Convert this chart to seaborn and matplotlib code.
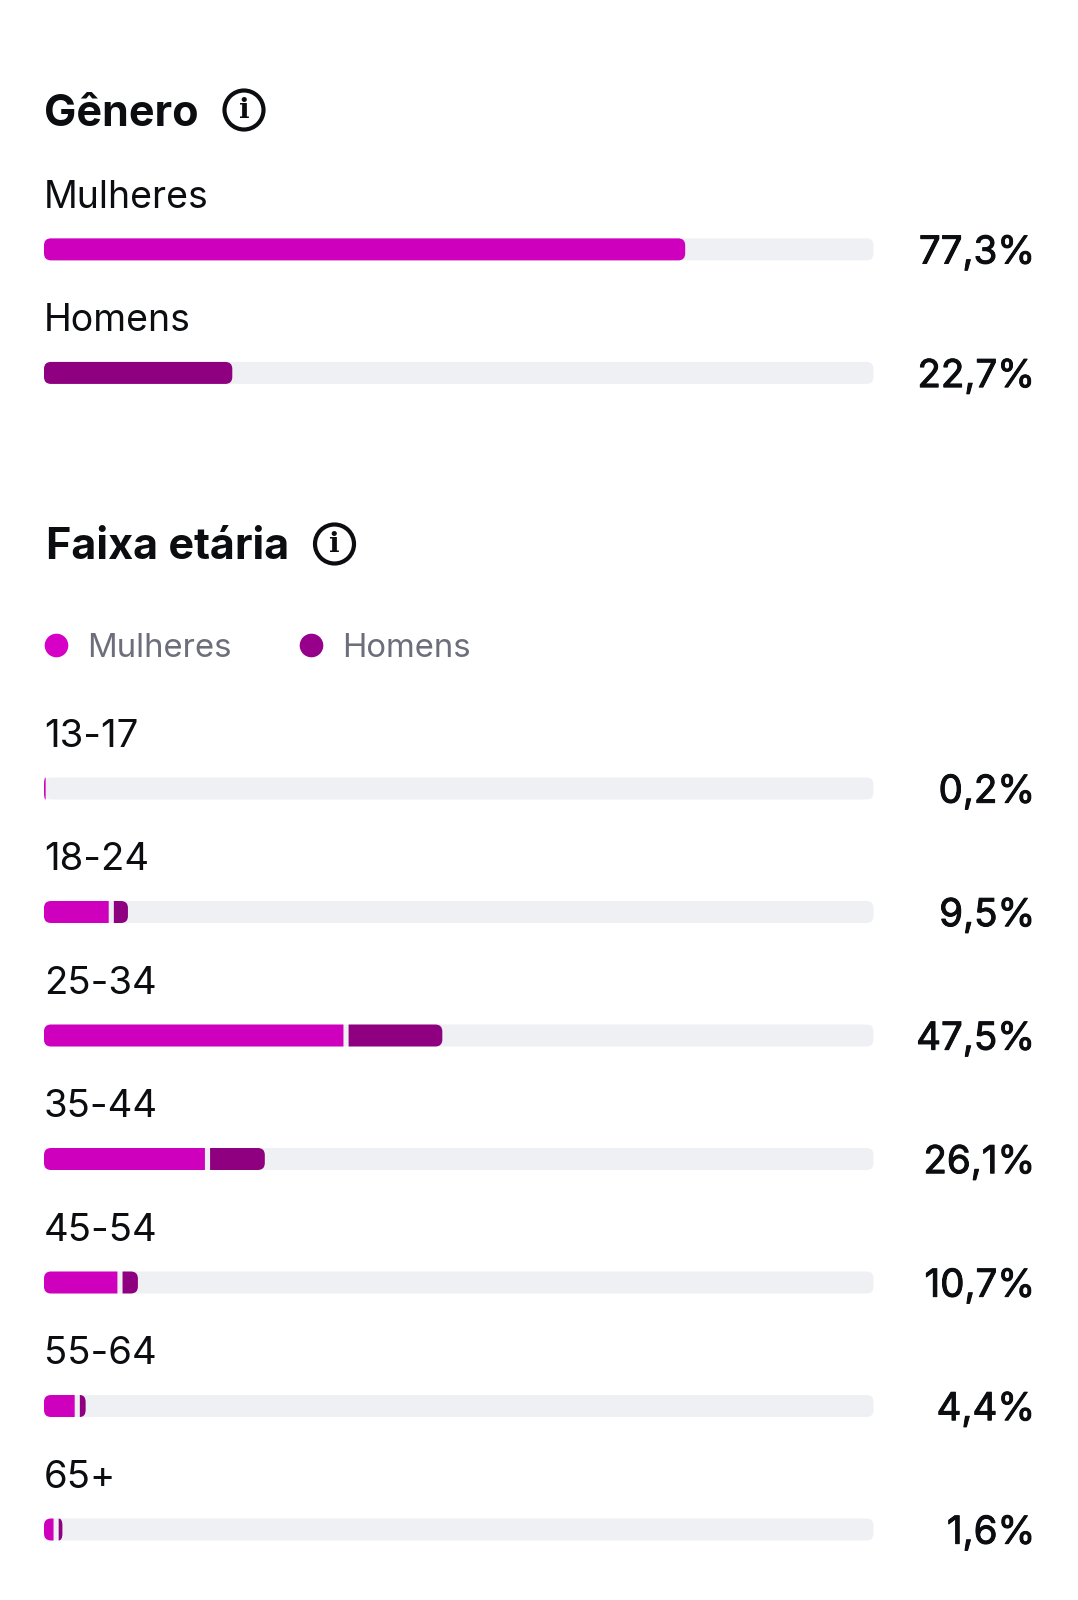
import numpy as np
import pandas as pd
import seaborn as sns
import matplotlib.pyplot as plt
import matplotlib.patheffects as pe
from matplotlib.lines import Line2D
from matplotlib.patches import Circle, PathPatch
from matplotlib.path import Path

# dados
genero = ['Mulheres', 'Homens']
genero_valores = [77.3, 22.7]
genero_rotulos = ['77,3%', '22,7%']

faixas = ['13-17', '18-24', '25-34', '35-44', '45-54', '55-64', '65+']
mulheres = [0.2, 7.8, 36.1, 19.4, 8.85, 3.7, 1.15]
homens = [0.0, 1.7, 11.3, 6.6, 1.85, 0.7, 0.45]
faixas_rotulos = ['0,2%', '9,5%', '47,5%', '26,1%', '10,7%', '4,4%', '1,6%']

ROSA = '#CE00BE'
ROXO = '#8E007F'
TRILHA = '#EFF0F4'
TEXTO = '#0B0D10'
W, H = 1078, 1600
GAP = 0.62

sns.set_theme(style='white')
plt.rcParams['font.family'] = ['Inter', 'DejaVu Sans']


def rounded(x0, x1, y0, y1, rx, ry, left, right):
    # retangulo com cantos arredondados so nos lados pedidos
    rxl = min(rx, x1 - x0) if left else 0
    rxr = min(rx, x1 - x0) if right else 0
    ryl = ry if left else 0
    ryr = ry if right else 0
    verts = [(x0 + rxl, y0), (x1 - rxr, y0), (x1, y0), (x1, y0 + ryr),
             (x1, y1 - ryr), (x1, y1), (x1 - rxr, y1),
             (x0 + rxl, y1), (x0, y1), (x0, y1 - ryl),
             (x0, y0 + ryl), (x0, y0), (x0 + rxl, y0), (x0 + rxl, y0)]
    codes = [Path.MOVETO, Path.LINETO, Path.CURVE3, Path.CURVE3,
             Path.LINETO, Path.CURVE3, Path.CURVE3,
             Path.LINETO, Path.CURVE3, Path.CURVE3,
             Path.LINETO, Path.CURVE3, Path.CURVE3, Path.CLOSEPOLY]
    return Path(verts, codes)


def soften(ax, container, color, left, right, offsets=None, radius=7):
    # troca os retangulos do seaborn por versoes arredondadas
    box = ax.get_window_extent()
    rx = radius * 100 / box.width
    ry = radius * abs(np.diff(ax.get_ylim())[0]) / box.height
    for i, bar in enumerate(container):
        x0 = bar.get_x() + (offsets[i] if offsets is not None else 0)
        x1 = x0 + bar.get_width()
        y0, y1 = bar.get_y(), bar.get_y() + bar.get_height()
        bar.set_visible(False)
        if x1 > x0:
            ax.add_patch(PathPatch(rounded(x0, x1, y0, y1, rx, ry, left, right),
                                   facecolor=color, edgecolor='none', zorder=3))


def make_axes(top, bottom):
    return fig.add_axes([44 / W, 1 - bottom / H, 829.5 / W, (bottom - top) / H])


def finish(ax, names, labels, size):
    ax.set_xlim(0, 100)
    ax.set_ylim(len(names) - 0.5, -0.5)
    ax.set_xlabel('')
    ax.set_ylabel('')
    ax.set_xticks([])
    ax.set_yticks([])
    sns.despine(ax=ax, left=True, bottom=True)
    ax.patch.set_alpha(0)
    for i, (name, lab) in enumerate(zip(names, labels)):
        ax.annotate(name, (0, i), xytext=(0, 30), textcoords='offset points',
                    fontsize=size, color=TEXTO, va='baseline', ha='left')
        t = ax.annotate(lab, (100, i), xytext=(116.5, -10.2), textcoords='offset points',
                        fontsize=27.7, color=TEXTO, va='baseline', ha='right')
        t.set_path_effects([pe.withStroke(linewidth=0.7, foreground=TEXTO)])


def info_icon(x, y):
    over.add_patch(Circle((x, y), 19.5, facecolor='none', edgecolor=TEXTO, linewidth=3))
    over.text(x, y + 1, 'i', fontsize=20, fontweight='bold', family='DejaVu Serif',
              ha='center', va='center', color=TEXTO)


fig = plt.figure(figsize=(W / 100, H / 100), dpi=100, facecolor='white')

# genero
ax_g = make_axes(187.6, 434.7)
df_g = pd.DataFrame({'nome': genero, 'valor': genero_valores, 'cheio': 100})
sns.barplot(data=df_g, x='cheio', y='nome', color=TRILHA, width=0.178, saturation=1, ax=ax_g)
sns.barplot(data=df_g, x='valor', y='nome', hue='nome', palette=[ROSA, ROXO], width=0.178,
            saturation=1, legend=False, dodge=False, ax=ax_g)
ax_g.set_xlim(0, 100)
ax_g.set_ylim(1.5, -0.5)
soften(ax_g, ax_g.containers[0], TRILHA, True, True)
soften(ax_g, ax_g.containers[1], ROSA, True, True)
soften(ax_g, ax_g.containers[2], ROXO, True, True)
finish(ax_g, genero, genero_rotulos, 27)

# faixa etaria
ax_a = make_axes(726.75, 1591.25)
df_a = pd.DataFrame({'faixa': faixas, 'mulheres': mulheres, 'homens': homens, 'cheio': 100})
sns.barplot(data=df_a, x='cheio', y='faixa', color=TRILHA, width=0.178, saturation=1, ax=ax_a)
sns.barplot(data=df_a, x='mulheres', y='faixa', color=ROSA, width=0.178, saturation=1, ax=ax_a)
sns.barplot(data=df_a, x='homens', y='faixa', color=ROXO, width=0.178, saturation=1, ax=ax_a)
ax_a.set_xlim(0, 100)
ax_a.set_ylim(6.5, -0.5)
soften(ax_a, ax_a.containers[0], TRILHA, True, True)
soften(ax_a, ax_a.containers[1], ROSA, True, False)
soften(ax_a, ax_a.containers[2], ROXO, False, True, offsets=[m + GAP for m in mulheres])
finish(ax_a, faixas, faixas_rotulos, 27.6)

# titulos, icones e legenda
over = fig.add_axes([0, 0, 1, 1])
over.set_xlim(0, W)
over.set_ylim(H, 0)
over.axis('off')
over.patch.set_alpha(0)
over.text(44.5, 125.7, 'Gênero', fontsize=31, fontweight='bold', color=TEXTO, va='baseline')
over.text(45.5, 559, 'Faixa etária', fontsize=31.1, fontweight='bold', color=TEXTO, va='baseline')
info_icon(244, 110)
info_icon(334.5, 544)

handles = [Line2D([], [], marker='o', linestyle='none', markersize=16, color='#D600C6', label='Mulheres'),
           Line2D([], [], marker='o', linestyle='none', markersize=16, color='#96008A', label='Homens')]
over.legend(handles=handles, ncols=2, frameon=False, fontsize=23.7, labelcolor='#6C6F7B',
            loc='center left', bbox_to_anchor=(44 / W, 1 - 648.5 / H), bbox_transform=fig.transFigure,
            handletextpad=0.6, columnspacing=2.06, handlelength=0.7, borderpad=0, borderaxespad=0)

fig.savefig('out.png', dpi=100, facecolor='white')
